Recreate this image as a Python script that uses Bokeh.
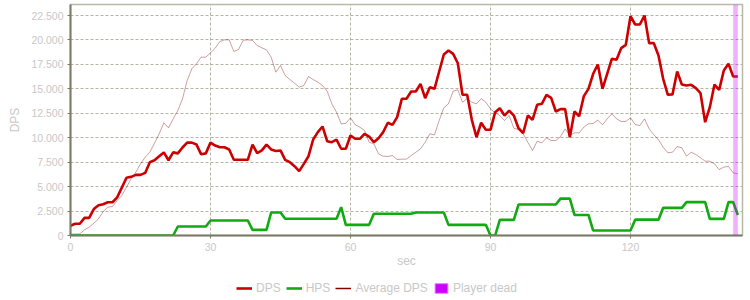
from bokeh.plotting import figure
from bokeh.models import Legend, LegendItem, BoxAnnotation, FixedTicker, Range1d
from bokeh.layouts import column
from bokeh.embed import file_html
from bokeh.resources import INLINE

secs = list(range(0, 144))

dps = [1000, 1200, 1200, 1800, 1800, 2700, 3100, 3200, 3400, 3400,
       3900, 4900, 5900, 6000, 6200, 6200, 6400, 7500, 7700, 8100,
       8500, 7700, 8500, 8400, 9000, 9500, 9500, 9300, 8300, 8400,
       9500, 9200, 9030, 9030, 8800, 7740, 7740, 7740, 7740, 9300,
       8420, 8700, 9300, 8800, 8640, 8700, 7740, 7500, 7090, 6580,
       7330, 8110, 9820, 10570, 11150, 9650, 9540, 9800, 8870, 8870,
       10230, 9890, 9890, 10400, 10120, 9540, 9950, 10570, 11530, 11320,
       12100, 13980, 13980, 14730, 14730, 15510, 14050, 15170, 15000, 16770,
       18510, 18920, 18580, 17620, 14390, 14390, 11830, 10050, 11530, 10810,
       10810, 12610, 13020, 12270, 12780, 12270, 10970, 10460, 12270, 11830,
       13370, 13470, 14390, 14080, 12680, 12920, 12920, 10050, 12680, 12200,
       14250, 15000, 16540, 17490, 15000, 16540, 18070, 17970, 19160, 19500,
       22430, 21580, 21580, 22500, 19670, 19670, 18410, 16030, 14390, 14430,
       16770, 15440, 15340, 15410, 15070, 14550, 11590, 13120, 15440, 14890,
       16870, 17560, 16260, 16260]

hps = ([0] * 23 + [920] * 7 + [1530] * 9 + [580] * 4 + [2350] * 3 +
       [1710] * 12 + [2900] + [1090] * 6 + [2220] * 9 + [2350] * 7 +
       [1090] * 9 + [0] * 2 + [1600] * 4 + [3170] * 9 + [3770] * 3 +
       [2100] * 4 + [510] * 9 + [1620] * 6 + [2830] * 5 + [3410] * 5 +
       [1700] * 4 + [3410] * 2 + [2100])

avg_dps = [150, 150, 170, 580, 850, 1260, 1700, 2450, 2900, 2960,
           3580, 4090, 4940, 5800, 6480, 7330, 8010, 8520, 9440, 10400,
           11530, 11010, 11930, 12780, 13980, 15850, 17050, 17560, 18240, 18240,
           18680, 19150, 19840, 20010, 20010, 18820, 19020, 19970, 20010, 19950,
           19430, 19200, 18990, 18240, 16700, 17390, 16360, 15950, 15580, 15170,
           15340, 16260, 15950, 15680, 15340, 14760, 13470, 12610, 11420, 11460,
           12040, 11320, 11080, 10740, 9540, 9380, 8360, 8110, 8080, 8180,
           7770, 7810, 7810, 8180, 8520, 8870, 9540, 10400, 10290, 11760,
           13060, 13470, 14760, 14900, 13630, 14000, 13630, 13470, 14000, 13630,
           12950, 12540, 12270, 11760, 12270, 10970, 10840, 10400, 9540, 8690,
           9640, 9470, 9990, 9710, 9710, 10120, 10910, 10230, 10500, 10500,
           11080, 11420, 11460, 11800, 11320, 11930, 12440, 11930, 11660, 11660,
           12040, 11350, 11250, 11930, 10910, 10300, 9790, 9030, 8460, 8520,
           9100, 8970, 8110, 8520, 8280, 7950, 7600, 7600, 7330, 6750,
           6990, 7060, 6410, 6310]

dead_start = [142]
dead_end = [143]

x_ticks = [0, 30, 60, 90, 120]
y_ticks = [0, 2500, 5000, 7500, 10000, 12500, 15000, 17500, 20000, 22500]
y_labels = ["0", "2.500", "5.000", "7.500", "10.000", "12.500",
            "15.000", "17.500", "20.000", "22.500"]

FONT = "Liberation Sans"
TXT = "#c8c8c8"
GRID = "#b4b4a4"
AXIS = "#7a7a66"
C_DPS = "#cc0000"
C_HPS = "#11aa11"
C_AVG = "#800000"
C_DEAD = "#cc00ff"

p = figure(width=750, height=270, output_backend="svg", toolbar_location=None,
           x_range=Range1d(0, 144), y_range=Range1d(0, 23625),
           min_border_left=70, min_border_right=8, min_border_top=4,
           min_border_bottom=35)
p.background_fill_color = "white"
p.border_fill_color = "white"
p.outline_line_color = "#b8b8a8"
p.outline_line_width = 1.5

for ax in (p.xaxis[0], p.yaxis[0]):
    ax.axis_line_color = AXIS
    ax.axis_line_width = 2
    ax.major_tick_line_color = AXIS
    ax.major_tick_out = 3
    ax.major_tick_in = 0
    ax.minor_tick_line_color = None
    ax.major_label_text_color = TXT
    ax.major_label_text_font = FONT
    ax.major_label_text_font_size = "10.5px"
    ax.major_label_standoff = 4
    ax.axis_label_text_color = TXT
    ax.axis_label_text_font = FONT
    ax.axis_label_text_font_size = "12px"
    ax.axis_label_text_font_style = "normal"

p.xaxis.ticker = FixedTicker(ticks=x_ticks)
p.yaxis.ticker = FixedTicker(ticks=y_ticks)
p.yaxis.major_label_overrides = {t: l for t, l in zip(y_ticks, y_labels)}
p.xaxis.axis_label = "sec"
p.yaxis.axis_label = "DPS"
p.xaxis.axis_label_standoff = 0
p.yaxis.axis_label_standoff = 6

for g in (p.xgrid[0], p.ygrid[0]):
    g.grid_line_color = GRID
    g.grid_line_dash = "3 2"
    g.grid_line_width = 1
p.xgrid.ticker = FixedTicker(ticks=x_ticks)
p.ygrid.ticker = FixedTicker(ticks=y_ticks)

p.line(secs, avg_dps, line_color=C_AVG, line_alpha=0.38, line_width=1)
p.line(secs, dps, line_color=C_DPS, line_width=2.6)
p.line(secs, hps, line_color=C_HPS, line_width=2.6)

band = BoxAnnotation(left=dead_start[0], right=dead_end[0], fill_color=C_DEAD,
                     fill_alpha=0.3, line_color=None)
p.add_layout(band)

# legend strip underneath the chart (its sample glyphs sit outside the visible range)
q = figure(width=750, height=30, output_backend="svg", toolbar_location=None,
           x_axis_location=None, y_axis_location=None,
           x_range=Range1d(0, 1), y_range=Range1d(0, 1),
           min_border_left=0, min_border_right=0, min_border_top=0,
           min_border_bottom=0)
q.outline_line_color = None
q.xgrid.visible = False
q.ygrid.visible = False
off = [5, 6]
l_dps = q.line(off, off, line_color=C_DPS, line_width=2.6)
l_hps = q.line(off, off, line_color=C_HPS, line_width=2.6)
l_avg = q.line(off, off, line_color=C_AVG, line_width=1.5)
l_dead = q.quad(left=off[:1], right=off[1:], bottom=off[:1], top=off[1:],
                fill_color=C_DEAD, line_color="#e080ff", line_width=1)

legend = Legend(items=[
    LegendItem(label="DPS", renderers=[l_dps]),
    LegendItem(label="HPS", renderers=[l_hps]),
    LegendItem(label="Average DPS", renderers=[l_avg]),
    LegendItem(label="Player dead", renderers=[l_dead]),
], orientation="horizontal", location=(166, 5))
legend.label_text_font = FONT
legend.label_text_font_size = "12px"
legend.label_text_color = TXT
legend.glyph_width = 16
legend.glyph_height = 12
legend.label_standoff = 4
legend.spacing = 5
legend.padding = 0
legend.margin = 0
legend.border_line_color = None
legend.background_fill_alpha = 0
q.add_layout(legend)

open("out.html", "w").write(file_html(column(p, q, spacing=0), INLINE))
